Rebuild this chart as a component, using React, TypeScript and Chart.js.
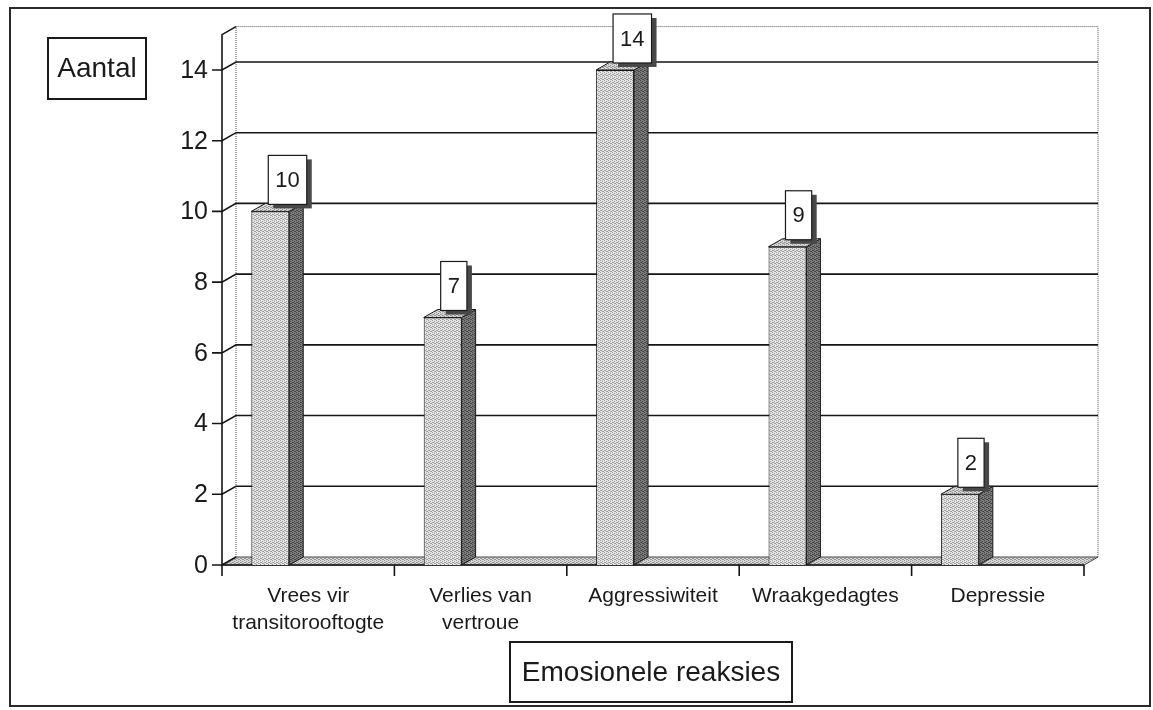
import React, { useEffect, useRef } from "react";
import { Chart, registerables } from "chart.js";

Chart.register(...registerables);

const categories: string[][] = [
  ["Vrees vir", "transitorooftogte"],
  ["Verlies van", "vertroue"],
  ["Aggressiwiteit"],
  ["Wraakgedagtes"],
  ["Depressie"],
];
const counts: number[] = [10, 7, 14, 9, 2];
const yTicks: number[] = [0, 2, 4, 6, 8, 10, 12, 14];
const yMax = 15;
const yAxisTitle = "Aantal";
const xAxisTitle = "Emosionele reaksies";

const FONT = '"Liberation Sans", Arial, sans-serif';
const DX = 14;
const DY = 8;

function makePattern(a: string, b: string): CanvasPattern | string {
  const c = document.createElement("canvas");
  c.width = 4;
  c.height = 4;
  const g = c.getContext("2d");
  if (!g) return a;
  g.fillStyle = a;
  g.fillRect(0, 0, 4, 4);
  g.fillStyle = b;
  const dots = [
    [0, 0], [2, 1], [1, 2], [3, 3], [2, 3], [0, 2],
  ];
  dots.forEach(([x, y]) => g.fillRect(x, y, 1, 1));
  const p = g.createPattern(c, "repeat");
  return p || a;
}

export default function App() {
  const ref = useRef<HTMLCanvasElement | null>(null);

  useEffect(() => {
    if (!ref.current) return;
    const frontFill = makePattern("#e2e2e2", "#a2a2a2");
    const sideFill = makePattern("#7a7a7a", "#4a4a4a");
    const topFill = makePattern("#d6d6d6", "#969696");
    const floorFill = makePattern("#d4d4d4", "#989898");

    const plugin = {
      id: "threeD",
      beforeDatasetsDraw(chart: any) {
        const ctx = chart.ctx as CanvasRenderingContext2D;
        const { left: L, right: R, top: T, bottom: B } = chart.chartArea;
        const ys = chart.scales.y;
        ctx.save();
        // outer frame
        ctx.strokeStyle = "#2a2a2a";
        ctx.lineWidth = 2;
        ctx.strokeRect(10, 8, 1140, 698);

        // floor
        ctx.beginPath();
        ctx.moveTo(L, B);
        ctx.lineTo(R, B);
        ctx.lineTo(R + DX, B - DY);
        ctx.lineTo(L + DX, B - DY);
        ctx.closePath();
        ctx.fillStyle = floorFill as any;
        ctx.fill();
        ctx.strokeStyle = "#444";
        ctx.lineWidth = 1;
        ctx.stroke();

        // dotted back wall edges
        ctx.setLineDash([1, 1]);
        ctx.strokeStyle = "#555";
        ctx.lineWidth = 1;
        ctx.beginPath();
        ctx.moveTo(L + DX, B - DY);
        ctx.lineTo(L + DX, T - DY);
        ctx.lineTo(R + DX, T - DY);
        ctx.lineTo(R + DX, B - DY);
        ctx.stroke();
        ctx.setLineDash([]);

        // left wall + gridlines
        ctx.strokeStyle = "#151515";
        ctx.lineWidth = 1.6;
        ctx.beginPath();
        ctx.moveTo(L, B);
        ctx.lineTo(L, T);
        ctx.lineTo(L + DX, T - DY);
        ctx.stroke();
        ctx.font = `25px ${FONT}`;
        ctx.fillStyle = "#1a1a1a";
        ctx.textAlign = "right";
        ctx.textBaseline = "middle";
        yTicks.forEach((v) => {
          const y = ys.getPixelForValue(v);
          ctx.beginPath();
          ctx.moveTo(L - 10, y);
          ctx.lineTo(L, y);
          ctx.lineTo(L + DX, y - DY);
          if (v > 0) ctx.lineTo(R + DX, y - DY);
          ctx.stroke();
          ctx.fillText(String(v), L - 14, y + 1);
        });

        // x axis line + ticks
        const n = categories.length;
        const step = (R - L) / n;
        ctx.beginPath();
        ctx.moveTo(L, B);
        ctx.lineTo(R, B);
        for (let i = 0; i <= n; i++) {
          const x = L + step * i;
          ctx.moveTo(x, B);
          ctx.lineTo(x, B + 11);
        }
        ctx.stroke();

        // category labels
        ctx.font = `21px ${FONT}`;
        ctx.textAlign = "center";
        ctx.textBaseline = "middle";
        const xs = chart.scales.x;
        categories.forEach((lines, i) => {
          const cx = xs.getPixelForValue(i);
          lines.forEach((ln, j) => {
            ctx.fillText(ln, cx, B + 31 + j * 27);
          });
        });

        // axis titles in boxes
        ctx.font = `28px ${FONT}`;
        ctx.lineWidth = 2;
        ctx.strokeStyle = "#1a1a1a";
        ctx.strokeRect(48, 38, 98, 61);
        ctx.fillText(yAxisTitle, 97, 69);
        ctx.strokeRect(510, 642, 282, 60);
        ctx.fillText(xAxisTitle, 651, 673);
        ctx.restore();
      },
      afterDatasetsDraw(chart: any) {
        const ctx = chart.ctx as CanvasRenderingContext2D;
        const meta = chart.getDatasetMeta(0);
        ctx.save();
        meta.data.forEach((el: any, i: number) => {
          const p = el.getProps(["x", "y", "base", "width"], true);
          const l = p.x - p.width / 2;
          const r = p.x + p.width / 2;
          const t = p.y;
          const b = p.base;
          ctx.strokeStyle = "#1a1a1a";
          ctx.lineWidth = 1;
          // side face
          ctx.beginPath();
          ctx.moveTo(r, b);
          ctx.lineTo(r + DX, b - DY);
          ctx.lineTo(r + DX, t - DY);
          ctx.lineTo(r, t);
          ctx.closePath();
          ctx.fillStyle = sideFill as any;
          ctx.fill();
          ctx.stroke();
          // top face
          ctx.beginPath();
          ctx.moveTo(l, t);
          ctx.lineTo(r, t);
          ctx.lineTo(r + DX, t - DY);
          ctx.lineTo(l + DX, t - DY);
          ctx.closePath();
          ctx.fillStyle = topFill as any;
          ctx.fill();
          ctx.stroke();

          // value label box
          const txt = String(counts[i]);
          ctx.font = `22px ${FONT}`;
          const w = ctx.measureText(txt).width + 14;
          const h = 49;
          const bx = p.x - 2;
          const by = t - 7 - h;
          ctx.fillStyle = "#484848";
          ctx.fillRect(bx + 5, by + 4, w, h);
          ctx.fillStyle = "#ffffff";
          ctx.fillRect(bx, by, w, h);
          ctx.lineWidth = 1.2;
          ctx.strokeStyle = "#1a1a1a";
          ctx.strokeRect(bx, by, w, h);
          ctx.fillStyle = "#1a1a1a";
          ctx.textAlign = "center";
          ctx.textBaseline = "middle";
          ctx.fillText(txt, bx + w / 2, by + h / 2 + 1);
        });
        ctx.restore();
      },
    };

    const chart = new Chart(ref.current, {
      type: "bar",
      data: {
        labels: categories,
        datasets: [
          {
            data: counts,
            backgroundColor: frontFill as any,
            borderColor: "#1a1a1a",
            borderWidth: 1,
            categoryPercentage: 0.88,
            barPercentage: 0.5,
          },
          {
            data: counts.map(() => null),
            categoryPercentage: 0.88,
            barPercentage: 0.5,
          },
        ],
      },
      options: {
        responsive: false,
        animation: false,
        devicePixelRatio: 1,
        layout: { padding: { left: 222, right: 69, top: 34.6, bottom: 145 } },
        plugins: { legend: { display: false }, tooltip: { enabled: false } },
        scales: {
          x: { display: false, offset: true },
          y: { display: false, min: 0, max: yMax },
        },
      },
      plugins: [plugin],
    });
    return () => chart.destroy();
  }, []);

  return (
    <div style={{ position: "fixed", left: 0, top: 0, width: 1153, height: 710, background: "#fff" }}>
      <canvas ref={ref} width={1153} height={710} style={{ display: "block" }} />
    </div>
  );
}
